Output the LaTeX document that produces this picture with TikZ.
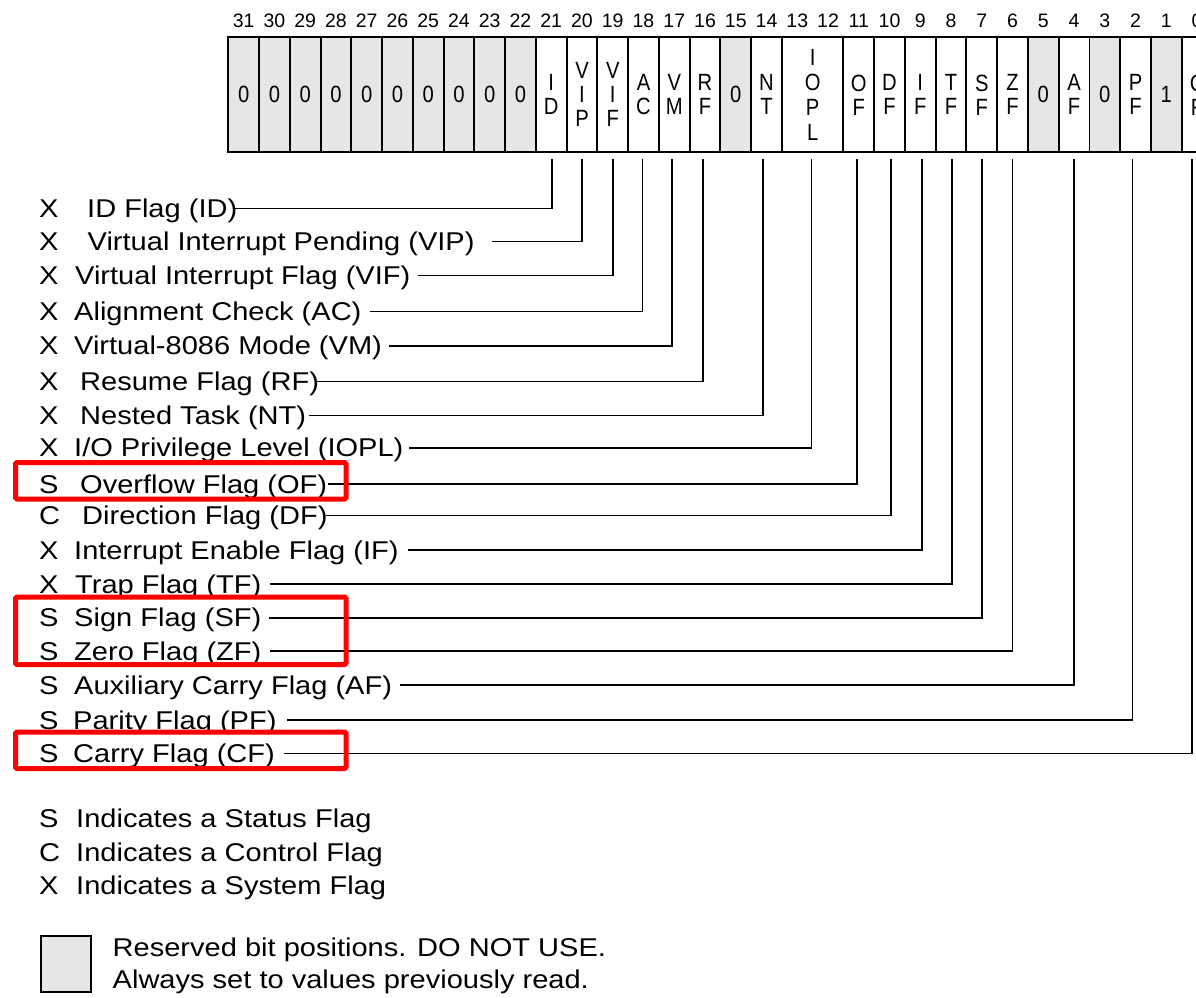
\documentclass[tikz,border=0pt]{standalone}
\usepackage{fontspec}
\setmainfont{Liberation Sans}
\newfontfamily\lblfam{Liberation Sans}[FakeStretch=1.13]
\newfontfamily\cellfam{Liberation Sans}[FakeStretch=0.86]
\definecolor{resv}{RGB}{230,230,230}
\definecolor{hlred}{RGB}{255,0,0}
\newcommand\bitx[1]{228.3+(31.5-#1)*30.755}
\begin{document}
\begin{tikzpicture}[x=1pt,y=-1pt,
  regcell/.style={draw, line width=1.9pt, minimum width=30.755pt, minimum height=115pt,
    inner sep=0pt, align=center, font=\cellfam\fontsize{23.5}{24}\selectfont},
  rsv/.style={regcell, fill=resv},
  bitnum/.style={inner sep=0pt, font=\fontsize{19.5}{20}\selectfont},
  lbl/.style={anchor=west, inner sep=0pt, text height=18.4pt, text depth=0pt,
    font=\lblfam\fontsize{25.7}{27}\selectfont},
  leader/.style={line width=1.6pt},
  hlbox/.style={draw=hlred, line width=5pt, rounded corners=1.5pt}]
\useasboundingbox (0,0) rectangle (1196,997);
\fill[white] (0,0) rectangle (1196,997);
\clip (0,0) rectangle (1196,997);

% bit numbers
\foreach \b in {0,...,31} \node[bitnum] (n\b) at ({\bitx{\b}},21) {\b};

% register cells
\foreach \b in {22,...,31} \node[rsv] (c\b) at ({\bitx{\b}},94.8) {0};
\node[regcell] (c21) at ({\bitx{21}},94.8) {I\\D};
\node[regcell] (c20) at ({\bitx{20}},94.8) {V\\I\\P};
\node[regcell] (c19) at ({\bitx{19}},94.8) {V\\I\\F};
\node[regcell] (c18) at ({\bitx{18}},94.8) {A\\C};
\node[regcell] (c17) at ({\bitx{17}},94.8) {V\\M};
\node[regcell] (c16) at ({\bitx{16}},94.8) {R\\F};
\node[rsv]     (c15) at ({\bitx{15}},94.8) {0};
\node[regcell] (c14) at ({\bitx{14}},94.8) {N\\T};
\node[regcell, minimum width=61.51pt, font=\cellfam\fontsize{23.5}{25}\selectfont]
               (c13) at ({228.3+19*30.755},94.8) {I\\O\\P\\L};
\node[regcell] (c11) at ({\bitx{11}},94.8) {O\\F};
\node[regcell] (c10) at ({\bitx{10}},94.8) {D\\F};
\node[regcell] (c9)  at ({\bitx{9}},94.8) {I\\F};
\node[regcell] (c8)  at ({\bitx{8}},94.8) {T\\F};
\node[regcell] (c7)  at ({\bitx{7}},94.8) {S\\F};
\node[regcell] (c6)  at ({\bitx{6}},94.8) {Z\\F};
\node[rsv]     (c5)  at ({\bitx{5}},94.8) {0};
\node[regcell] (c4)  at ({\bitx{4}},94.8) {A\\F};
\node[rsv]     (c3)  at ({\bitx{3}},94.8) {0};
\node[regcell] (c2)  at ({\bitx{2}},94.8) {P\\F};
\node[rsv]     (c1)  at ({\bitx{1}},94.8) {1};
\node[regcell] (c0)  at ({\bitx{0}},94.8) {C\\F};

% flag labels and leaders
\node[lbl] (k21) at (39,208.5) {X};
\node[lbl] (l21) at (87,208.5) {ID Flag (ID)};
\draw[leader] ([xshift=-3pt]l21.east) -| ([xshift=1pt,yshift=-6pt]c21.south);

\node[lbl] (k20) at (39,241.5) {X};
\node[lbl] (l20) at (87.5,241.5) {Virtual Interrupt Pending (VIP)};
\draw[leader] ([xshift=17pt]l20.east) -| ([yshift=-6pt]c20.south);

\node[lbl] (k19) at (39,275.5) {X};
\node[lbl] (l19) at (75,275.5) {Virtual Interrupt Flag (VIF)};
\draw[leader] ([xshift=7pt]l19.east) -| ([yshift=-6pt]c19.south);

\node[lbl] (k18) at (39,311.5) {X};
\node[lbl] (l18) at (74,311.5) {Alignment Check (AC)};
\draw[leader] ([xshift=8.5pt]l18.east) -| ([xshift=-1pt,yshift=-6pt]c18.south);

\node[lbl] (k17) at (39,345.7) {X};
\node[lbl] (l17) at (74,345.7) {Virtual-8086 Mode (VM)};
\draw[leader] ([xshift=6.5pt]l17.east) -| ([xshift=-2pt,yshift=-6pt]c17.south);

\node[lbl] (k16) at (39,381.5) {X};
\node[lbl] (l16) at (80,381.5) {Resume Flag (RF)};
\draw[leader] ([xshift=-2pt]l16.east) -| ([xshift=-2pt,yshift=-6pt]c16.south);

\node[lbl] (k14) at (39,415.5) {X};
\node[lbl] (l14) at (80,415.5) {Nested Task (NT)};
\draw[leader] ([xshift=2.5pt]l14.east) -| ([xshift=-3.5pt,yshift=-6pt]c14.south);

\node[lbl] (k13) at (39,447.7) {X};
\node[lbl] (l13) at (74,447.7) {I/O Privilege Level (IOPL)};
\draw[leader] ([xshift=5.5pt]l13.east) -| ([xshift=-1pt,yshift=-6pt]c13.south);

\node[lbl] (k11) at (39,484) {S};
\node[lbl] (l11) at (80,484) {Overflow Flag (OF)};
\draw[leader] ([xshift=1pt]l11.east) -| ([xshift=-2pt,yshift=-6pt]c11.south);

\node[lbl] (k10) at (39,515.5) {C};
\node[lbl] (l10) at (82,515.5) {Direction Flag (DF)};
\draw[leader] ([xshift=-1.5pt]l10.east) -| ([xshift=1.5pt,yshift=-6pt]c10.south);

\node[lbl] (k9) at (39,550) {X};
\node[lbl] (l9) at (74,550) {Interrupt Enable Flag (IF)};
\draw[leader] ([xshift=9.5pt]l9.east) -| ([xshift=1.5pt,yshift=-6pt]c9.south);

\node[lbl] (k8) at (39,584) {X};
\node[lbl] (l8) at (75,584) {Trap Flag (TF)};
\draw[leader] ([xshift=8.5pt]l8.east) -| ([xshift=1pt,yshift=-6pt]c8.south);

\node[lbl] (k7) at (39,617.7) {S};
\node[lbl] (l7) at (74,617.7) {Sign Flag (SF)};
\draw[leader] ([xshift=7.5pt]l7.east) -| ([yshift=-6pt]c7.south);

\node[lbl] (k6) at (39,651) {S};
\node[lbl] (l6) at (74,651) {Zero Flag (ZF)};
\draw[leader] ([xshift=8.5pt]l6.east) -| ([yshift=-6pt]c6.south);

\node[lbl] (k4) at (39,685) {S};
\node[lbl] (l4) at (74,685) {Auxiliary Carry Flag (AF)};
\draw[leader] ([xshift=8pt]l4.east) -| ([yshift=-6pt]c4.south);

\node[lbl] (k2) at (39,720) {S};
\node[lbl] (l2) at (73,720) {Parity Flag (PF)};
\draw[leader] ([xshift=10pt]l2.east) -| ([xshift=-3pt,yshift=-6pt]c2.south);

\node[lbl] (k0) at (39,753.3) {S};
\node[lbl] (l0) at (73,753.3) {Carry Flag (CF)};
\draw[leader] ([xshift=8.5pt]l0.east) -| ([xshift=-5pt,yshift=-6pt]c0.south);

% highlight boxes
\draw[hlbox] (15.5,462.5) rectangle (346,499);
\draw[hlbox] (15.5,597) rectangle (346,664.5);
\draw[hlbox] (15.5,732) rectangle (346,768.5);

% legend
\node[lbl] (ks) at (39,818) {S};
\node[lbl] (ts) at (76,818) {Indicates a Status Flag};
\node[lbl] (kc) at (39,852) {C};
\node[lbl] (tc) at (76,852) {Indicates a Control Flag};
\node[lbl] (kx) at (39,885.5) {X};
\node[lbl] (tx) at (76,885.5) {Indicates a System Flag};

\node[draw, fill=resv, line width=1.5pt, minimum width=50pt, minimum height=56pt,
      inner sep=0pt, anchor=north west] (rbox) at (40,935) {};
\node[lbl] (r1) at (112.5,947) {Reserved bit positions. DO NOT USE.};
\node[lbl] (r2) at (112.5,979.5) {Always set to values previously read.};
\end{tikzpicture}
\end{document}
